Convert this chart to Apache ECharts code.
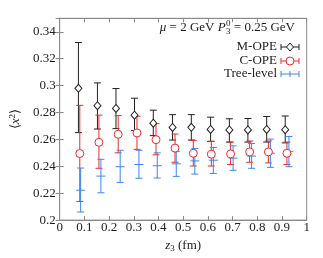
<!DOCTYPE html>
<html><head><meta charset="utf-8">
<script src="https://cdn.jsdelivr.net/npm/echarts@6/dist/echarts.min.js"></script>
<style>html,body{margin:0;padding:0;background:#fff}#c{width:323px;height:258px}</style>
</head><body><div id="c"></div>
<script>
// ---- data ----
var xTicks = [0,0.1,0.2,0.3,0.4,0.5,0.6,0.7,0.8,0.9,1];
var yTicks = [0.2,0.22,0.24,0.26,0.28,0.3,0.32,0.34];
var zM = [0.076,0.153,0.228,0.303,0.379,0.457,0.533,0.611,0.687,0.762,0.838,0.913];
var mVal = [0.298,0.285,0.283,0.278,0.272,0.2689,0.269,0.2674,0.267,0.267,0.2674,0.2672];
var mLo  = [0.265,0.2677,0.268,0.2665,0.2628,0.2595,0.2595,0.2585,0.258,0.258,0.258,0.2574];
var mHi  = [0.332,0.302,0.2978,0.2906,0.2817,0.2784,0.2784,0.2765,0.2753,0.2755,0.277,0.2774];
var zC = [0.0815,0.159,0.237,0.313,0.390,0.467,0.541,0.614,0.692,0.769,0.845,0.920];
var cVal = [0.2495,0.2578,0.2638,0.2648,0.2598,0.2535,0.2497,0.249,0.2492,0.2507,0.2507,0.2497];
var cLo  = [0.2139,0.2385,0.25,0.2526,0.2485,0.243,0.2402,0.2402,0.2413,0.243,0.2425,0.2413];
var cHi  = [0.2853,0.278,0.2777,0.2772,0.2717,0.264,0.2593,0.2586,0.258,0.2588,0.2588,0.258];
var zT = [0.085,0.167,0.245,0.321,0.395,0.472,0.547,0.622,0.702,0.777,0.853,0.928];
var tVal = [0.2222,0.2327,0.2397,0.2413,0.2404,0.2418,0.244,0.2445,0.2461,0.2476,0.2497,0.2511];
var tLo  = [0.206,0.2203,0.228,0.2311,0.2313,0.2325,0.2342,0.2347,0.237,0.2385,0.2392,0.2397];
var tHi  = [0.2387,0.2452,0.2519,0.2519,0.25,0.2509,0.2533,0.254,0.2552,0.2569,0.2602,0.2621];
var seriesNames = ['M-OPE','C-OPE','Tree-level'];
var colors = ['#222222','#ee2b2b','#3d86ee'];

var FONT = 'Liberation Serif';
var FS = 13;
function zip(z,v,lo,hi){return z.map(function(x,i){return [x,v[i],lo[i],hi[i]];});}
function errRender(color, centerBar){
  return function(params, api){
    var x = api.value(0), lo = api.value(2), hi = api.value(3), v = api.value(1);
    var pLo = api.coord([x,lo]), pHi = api.coord([x,hi]), pC = api.coord([x,v]);
    var cw = 3.5, st = {stroke: color, lineWidth: 1};
    var ch = [
      {type:'line', shape:{x1:pLo[0],y1:pLo[1],x2:pHi[0],y2:pHi[1]}, style:st},
      {type:'line', shape:{x1:pLo[0]-cw,y1:pLo[1],x2:pLo[0]+cw,y2:pLo[1]}, style:st},
      {type:'line', shape:{x1:pHi[0]-cw,y1:pHi[1],x2:pHi[0]+cw,y2:pHi[1]}, style:st}
    ];
    if(centerBar){ ch.push({type:'line', shape:{x1:pC[0]-4.5,y1:pC[1],x2:pC[0]+4.5,y2:pC[1]}, style:st}); }
    return {type:'group', children: ch};
  };
}
var chart = echarts.init(document.getElementById('c'), null, {renderer:'canvas'});
var axisCol = '#8a8a8a';
var lbl = {color:'#222', fontFamily:FONT, fontSize:FS};
var tickStyle = {show:true, inside:true, length:4, lineStyle:{color:axisCol}};

// measure annotation pieces
var mctx = document.createElement('canvas').getContext('2d');
function tw(t, f){ mctx.font = f; return mctx.measureText(t).width; }
var fN = FS+'px "'+FONT+'"', fI = 'italic '+FS+'px "'+FONT+'"', fS = '9px "'+FONT+'"';
var partA = '{i|μ} = 2 GeV {i|P}';
var wA = tw('μ', fI) + tw(' = 2 GeV ', fN) + tw('P', fI);
var wSub = Math.max(tw('3', fS), tw('0', fS)) + 0.5;
var partB = ' = 0.25 GeV';
var wB = tw(partB, fN);
var annRight = 295, annY = 28;
var annX = annRight - (wA + wSub + wB);

var option = {
  animation:false,
  grid:{left:49, right:16.3, top:18.3, bottom:30.3, show:true, borderColor:axisCol, borderWidth:1},
  xAxis:[{
    type:'value', min:xTicks[0], max:xTicks[xTicks.length-1], interval:0.1,
    axisLine:{show:true, lineStyle:{color:axisCol}}, axisTick:tickStyle, splitLine:{show:false},
    axisLabel:Object.assign({margin:1, formatter:function(v){return String(+v.toFixed(2));}}, lbl),
    name:'{i|z}{s|3} (fm)', nameLocation:'middle', nameGap:10,
    nameTextStyle:{color:'#222', fontFamily:FONT, fontSize:FS, verticalAlign:'top',
      rich:{i:{fontStyle:'italic', fontFamily:FONT, fontSize:FS, color:'#222'}, s:{fontFamily:FONT, fontSize:9, color:'#222', verticalAlign:'bottom', padding:[6,0,0,0]}}}
  },{
    type:'value', position:'top', min:0, max:1, interval:0.1,
    axisLine:{show:true, lineStyle:{color:axisCol}}, axisTick:tickStyle, axisLabel:{show:false}, splitLine:{show:false}
  }],
  yAxis:[{
    type:'value', min:yTicks[0], max:0.35, interval:0.02,
    axisLine:{show:true, lineStyle:{color:axisCol}}, axisTick:tickStyle, splitLine:{show:false},
    axisLabel:Object.assign({margin:4, showMaxLabel:false, formatter:function(v){return String(+v.toFixed(2));}}, lbl),
    name:'⟨{i|x}{p|2}⟩', nameLocation:'middle', nameGap:30, nameRotate:90,
    nameTextStyle:{color:'#222', fontFamily:FONT, fontSize:FS,
      rich:{i:{fontStyle:'italic', fontFamily:FONT, fontSize:FS, color:'#222'}, p:{fontFamily:FONT, fontSize:9, color:'#222', verticalAlign:'top', padding:[0,0,6,0]}}}
  },{
    type:'value', position:'right', min:0.2, max:0.35, interval:0.02,
    axisLine:{show:true, lineStyle:{color:axisCol}}, axisTick:tickStyle, axisLabel:{show:false}, splitLine:{show:false}
  }],
  series:[
    {type:'custom', name:seriesNames[0], renderItem:errRender(colors[0], false), data:zip(zM,mVal,mLo,mHi), encode:{x:0,y:[2,3]}, z:2},
    {type:'custom', name:seriesNames[1], renderItem:errRender(colors[1], false), data:zip(zC,cVal,cLo,cHi), encode:{x:0,y:[2,3]}, z:2},
    {type:'custom', name:seriesNames[2], renderItem:errRender(colors[2], true), data:zip(zT,tVal,tLo,tHi), encode:{x:0,y:[2,3]}, z:2},
    {type:'scatter', symbol:'diamond', symbolSize:[7,8], data:zM.map(function(x,i){return [x,mVal[i]];}),
      itemStyle:{color:'#fff', borderColor:colors[0], borderWidth:1, opacity:1}, z:3},
    {type:'scatter', symbol:'circle', symbolSize:8, data:zC.map(function(x,i){return [x,cVal[i]];}),
      itemStyle:{color:'#fff', borderColor:colors[1], borderWidth:1, opacity:1}, z:3}
  ],
  graphic:[
    {type:'text', style:{x:annX, y:annY, verticalAlign:'middle', align:'left',
      text:partA, fill:'#222', font:fN,
      rich:{i:{fontStyle:'italic', fontFamily:FONT, fontSize:FS, fill:'#222'}}}},
    {type:'text', style:{x:annX+wA+0.5, y:annY+4, verticalAlign:'middle', align:'left', text:'3', fill:'#222', font:fS}},
    {type:'text', style:{x:annX+wA+0.5, y:annY-4.5, verticalAlign:'middle', align:'left', text:'0', fill:'#222', font:fS}},
    {type:'text', style:{x:annX+wA+wSub, y:annY, verticalAlign:'middle', align:'left', text:partB, fill:'#222', font:fN}}
  ]
};
// legend (drawn as graphic elements)
var legY = [47, 61, 74];
seriesNames.forEach(function(n,i){
  var y = legY[i], c = colors[i];
  option.graphic.push({type:'text', style:{text:n, x:277, y:y, align:'right', verticalAlign:'middle', fill:'#222', font:fN}});
  option.graphic.push({type:'line', shape:{x1:281,y1:y,x2:299,y2:y}, style:{stroke:c, lineWidth:1}});
  option.graphic.push({type:'line', shape:{x1:281,y1:y-3,x2:281,y2:y+3}, style:{stroke:c, lineWidth:1}});
  option.graphic.push({type:'line', shape:{x1:299,y1:y-3,x2:299,y2:y+3}, style:{stroke:c, lineWidth:1}});
  if(i===0){ option.graphic.push({type:'polygon', shape:{points:[[290,y-4],[293.5,y],[290,y+4],[286.5,y]]}, style:{fill:'#fff', stroke:c, lineWidth:1}}); }
  if(i===1){ option.graphic.push({type:'circle', shape:{cx:290,cy:y,r:4}, style:{fill:'#fff', stroke:c, lineWidth:1}}); }
  if(i===2){ option.graphic.push({type:'line', shape:{x1:290,y1:y-3,x2:290,y2:y+3}, style:{stroke:c, lineWidth:1}}); }
});
chart.setOption(option);
</script>
</body></html>
